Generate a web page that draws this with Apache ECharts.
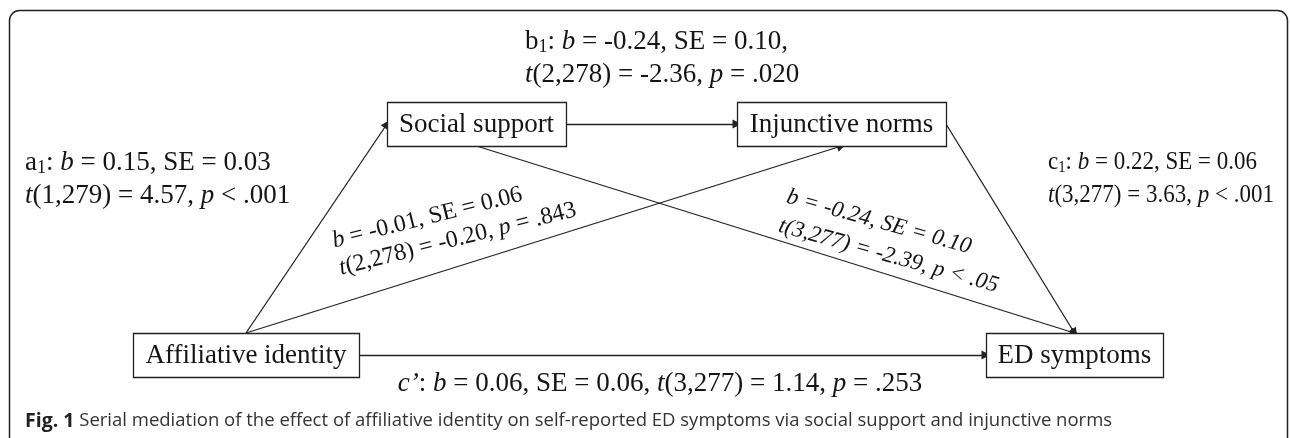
<!DOCTYPE html>
<html>
<head>
<meta charset="utf-8">
<script src="https://cdn.jsdelivr.net/npm/echarts@6/dist/echarts.min.js"></script>
<style>
  html, body { margin: 0; padding: 0; background: #fff; }
  #main { width: 1290px; height: 438px; }
</style>
</head>
<body>
<div id="main"></div>
<script>
// serial mediation model: the four variables
const nodeNames = ['Affiliative identity', 'Social support', 'Injunctive norms', 'ED symptoms'];

// paths between them (node index) and the box side each one leaves / enters
const pathFrom = [0, 0, 1, 1, 2, 0];
const pathTo = [1, 2, 2, 3, 3, 3];
const pathFromSide = ['top', 'top', 'right', 'bottom', 'right', 'right'];
const pathToSide = ['left', 'bottom', 'left', 'top', 'top', 'left'];

// path coefficients, one array of text lines per label
const coefA1 = ['a{sub|1}: {i|b} = 0.15, SE = 0.03', '{i|t}(1,279) = 4.57, {i|p} < .001'];
const coefB1 = ['b{sub|1}: {i|b} = -0.24, SE = 0.10,', '{i|t}(2,278) = -2.36, {i|p} = .020'];
const coefC1 = ['c{sub|1}: {i|b} = 0.22, SE = 0.06', '{i|t}(3,277) = 3.63, {i|p} < .001'];
const coefAffInj = ['{i|b} = -0.01, SE = 0.06', '{i|t}(2,278) = -0.20, {i|p} = .843'];
const coefSocEd = ['{i|b = -0.24, SE = 0.10}', '{i|t(3,277) = -2.39, p < .05}'];
const coefDirect = ['{i|c’}: {i|b} = 0.06, SE = 0.06, {i|t}(3,277) = 1.14, {i|p} = .253'];
const coefLabels = [coefA1, coefB1, coefC1, coefAffInj, coefSocEd, coefDirect];

const captionText = '{b|Fig. 1} Serial mediation of the effect of affiliative identity on self-reported ED symptoms via social support and injunctive norms';

// ---- layout (chart units = pixels of the figure) ----
const nodeLayout = [[246, 355, 226], [476.5, 124, 179], [841.5, 124, 209], [1074.5, 355, 177]]; // cx, cy, width
const boxHeight = 44;
// x, y, rotation (deg), align, font size, line height, horizontal scale
const coefLayout = [
  [25, 179, 0, 'left', 27, 33, 1],
  [525, 58, 0, 'left', 27, 33, 1],
  [1048, 179, 0, 'left', 25, 33, 0.92],
  [336, 255, 14, 'left', 24, 28, 1],
  [783, 211, -15.5, 'left', 23, 30, 1],
  [660, 384, 0, 'center', 27, 33, 1]
];

const serif = '"Times New Roman", "Liberation Serif", serif';
const ink = '#151515';

function makeRich(size, lh) {
  return {
    i: { fontStyle: 'italic', fontFamily: serif, fontSize: size, lineHeight: lh, color: ink },
    sub: { fontFamily: serif, fontSize: Math.round(size * 0.65), lineHeight: lh, padding: [Math.round(size * 0.45), 0, 0, 0], color: ink }
  };
}

function anchor(n, side) {
  const L = nodeLayout[n];
  const hw = L[2] / 2, hh = boxHeight / 2;
  if (side === 'top') return [L[0], L[1] - hh];
  if (side === 'bottom') return [L[0], L[1] + hh];
  if (side === 'left') return [L[0] - hw, L[1]];
  return [L[0] + hw, L[1]];
}

const pathCoords = pathFrom.map((f, k) => [anchor(f, pathFromSide[k]), anchor(pathTo[k], pathToSide[k])]);

let chart = echarts.init(document.getElementById('main'), null, { renderer: 'canvas' });

let option = {
  backgroundColor: '#fff',
  animation: false,
  grid: { left: 0, right: 0, top: 0, bottom: 0 },
  xAxis: { type: 'value', min: 0, max: 1290, show: false },
  yAxis: { type: 'value', min: 0, max: 438, inverse: true, show: false },
  title: {
    text: captionText,
    left: 25,
    top: 410,
    padding: 0,
    textStyle: {
      fontFamily: 'Open Sans',
      fontSize: 18.5,
      lineHeight: 22,
      fontWeight: 'normal',
      color: '#333',
      rich: {
        b: { fontFamily: 'Open Sans', fontSize: 19.5, lineHeight: 22, fontWeight: 'bold', color: '#222' }
      }
    }
  },
  graphic: [{
    type: 'rect',
    silent: true,
    shape: { x: 9.5, y: 10.5, width: 1278, height: 520, r: 10 },
    style: { fill: 'none', stroke: '#222', lineWidth: 1.5 }
  }],
  series: [
    {
      type: 'lines',
      coordinateSystem: 'cartesian2d',
      z: 2,
      silent: true,
      symbol: ['none', 'triangle'],
      symbolSize: 9,
      lineStyle: { color: '#222', width: 1.3, opacity: 1, curveness: 0 },
      data: pathCoords.map(c => ({ coords: c }))
    },
    {
      type: 'custom',
      z: 3,
      silent: true,
      data: nodeLayout.map(L => [L[0], L[1]]),
      encode: { x: 0, y: 1 },
      renderItem: function (params, api) {
        let i = params.dataIndex;
        let L = nodeLayout[i];
        let tl = api.coord([L[0] - L[2] / 2, L[1] - boxHeight / 2]);
        let sz = api.size([L[2], boxHeight]);
        return {
          type: 'group',
          children: [
            {
              type: 'rect',
              shape: { x: Math.round(tl[0]) + 0.5, y: Math.round(tl[1]) + 0.5, width: Math.round(sz[0]), height: Math.round(sz[1]) },
              style: { fill: '#fff', stroke: '#222', lineWidth: 1.3 }
            },
            {
              type: 'text',
              style: {
                text: nodeNames[i],
                x: tl[0] + sz[0] / 2,
                y: tl[1] + sz[1] / 2 + 1,
                align: 'center',
                verticalAlign: 'middle',
                fontFamily: serif,
                fontSize: 27,
                fill: ink
              }
            }
          ]
        };
      }
    },
    {
      type: 'custom',
      z: 4,
      silent: true,
      data: coefLayout.map(p => [p[0], p[1]]),
      encode: { x: 0, y: 1 },
      renderItem: function (params, api) {
        let i = params.dataIndex;
        let p = coefLayout[i];
        let pt = api.coord([p[0], p[1]]);
        return {
          type: 'text',
          x: pt[0],
          y: pt[1],
          rotation: p[2] * Math.PI / 180,
          scaleX: p[6],
          style: {
            text: coefLabels[i].join('\n'),
            x: 0,
            y: 0,
            align: p[3],
            verticalAlign: 'middle',
            fontFamily: serif,
            fontSize: p[4],
            lineHeight: p[5],
            fill: ink,
            rich: makeRich(p[4], p[5])
          }
        };
      }
    }
  ]
};

chart.setOption(option);
window.onresize = function () {
  chart.resize();
};
</script>
</body>
</html>
